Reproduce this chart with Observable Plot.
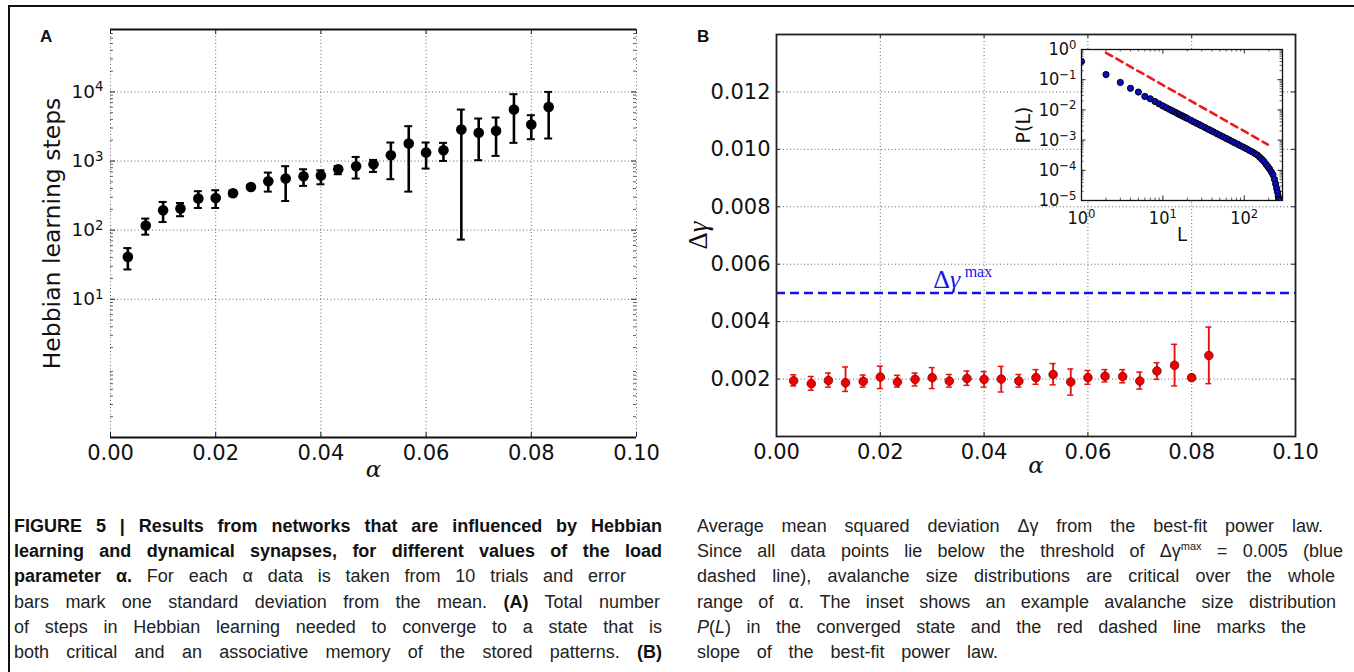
<!DOCTYPE html>
<html><head><meta charset="utf-8">
<script src="https://cdn.jsdelivr.net/npm/d3@7"></script>
<script src="https://cdn.jsdelivr.net/npm/@observablehq/plot@0.6"></script>
<style>
html,body{margin:0;padding:0;background:#fff;}
body{width:1354px;height:672px;position:relative;overflow:hidden;}
.pane{position:absolute;top:0;}
.border-top{position:absolute;left:8px;top:5px;width:1346px;height:1.6px;background:#111;}
.border-left{position:absolute;left:8px;top:5px;width:1.6px;height:667px;background:#111;}
.letter{position:absolute;top:27px;font:bold 17px "Liberation Sans",Arial,sans-serif;color:#111;}
.cap{position:absolute;top:514px;font-family:"Liberation Sans",Arial,sans-serif;font-size:18px;color:#222;}
.ln{display:block;height:25.2px;line-height:25.2px;text-align:justify;text-align-last:justify;white-space:nowrap;}
.b{font-weight:bold;color:#111;}
</style></head><body>
<div class="border-top"></div><div class="border-left"></div>
<div class="pane" id="paneA" style="left:0"></div>
<div class="pane" id="paneB" style="left:680px"></div>
<div class="pane" id="paneInset" style="left:1000px"></div>
<div class="letter" style="left:40px">A</div>
<div class="letter" style="left:697px">B</div>
<div class="cap" style="left:14px">
 <div class="ln b" style="width:648px">FIGURE 5 | Results from networks that are influenced by Hebbian</div>
 <div class="ln b" style="width:648px">learning and dynamical synapses, for different values of the load</div>
 <div class="ln" style="width:612px"><span class="b">parameter α.</span> For each α data is taken from 10 trials and error</div>
 <div class="ln" style="width:646px">bars mark one standard deviation from the mean. <span class="b">(A)</span> Total number</div>
 <div class="ln" style="width:648px">of steps in Hebbian learning needed to converge to a state that is</div>
 <div class="ln" style="width:648px">both critical and an associative memory of the stored patterns. <span class="b">(B)</span></div>
</div>
<div class="cap" style="left:697px">
 <div class="ln" style="width:626px">Average mean squared deviation Δγ from the best-fit power law.</div>
 <div class="ln" style="width:646px">Since all data points lie below the threshold of Δγ<sup style="font-size:11px;line-height:0">max</sup> = 0.005 (blue</div>
 <div class="ln" style="width:638px">dashed line), avalanche size distributions are critical over the whole</div>
 <div class="ln" style="width:639px">range of α. The inset shows an example avalanche size distribution</div>
 <div class="ln" style="width:609px"><i>P</i>(<i>L</i>) in the converged state and the red dashed line marks the</div>
 <div class="ln" style="width:301px">slope of the best-fit power law.</div>
</div>
<script>
// ---------- data ----------
const alpha = [0.0033,0.0067,0.0100,0.0133,0.0167,0.0200,0.0233,0.0267,0.0300,0.0333,0.0367,0.0400,0.0433,0.0467,0.0500,0.0533,0.0567,0.0600,0.0633,0.0667,0.0700,0.0733,0.0767,0.0800,0.0833];
const stepsMean = [41,117,194,205,287,292,342,422,510,558,603,617,760,842,900,1213,1795,1327,1432,2858,2558,2735,5559,3374,6067];
const stepsLow  = [27,86,131,159,209,209,310,398,361,264,437,461,644,558,695,546,361,778,1003,73,1028,1186,1832,2070,2118];
const stepsHigh = [55,147,256,247,366,378,375,448,681,842,760,735,849,1146,1038,1853,3192,1853,1832,5559,4121,4262,9270,4603,10000];
const dgMean = [0.00194,0.00184,0.00195,0.00187,0.00192,0.00207,0.00190,0.00199,0.00205,0.00193,0.00202,0.00199,0.00200,0.00193,0.00205,0.00216,0.00190,0.00205,0.00210,0.00209,0.00193,0.00228,0.00248,0.00205,0.00282];
const dgLow  = [0.00176,0.00161,0.00172,0.00157,0.00172,0.00167,0.00172,0.00176,0.00167,0.00172,0.00178,0.00172,0.00155,0.00172,0.00182,0.00180,0.00144,0.00182,0.00190,0.00187,0.00165,0.00199,0.00176,0.00196,0.00184];
const dgHigh = [0.00215,0.00209,0.00221,0.00242,0.00214,0.00245,0.00213,0.00221,0.00240,0.00216,0.00228,0.00226,0.00244,0.00216,0.00233,0.00254,0.00235,0.00230,0.00233,0.00233,0.00224,0.00257,0.00321,0.00214,0.00381];
const dgMax = [0.005];
const avalancheL = [1,2,3,4,5,6,7,8,9,10,11,12,13,14,15,16,17,18,19,20,22,24,26,28,30,33,36,39,42,46,50,55,60,65,70,76,83,90,98,106,115,125,135,145,155,165,175,185,195,205,215,225,235,243,250,256,261,265,268];
const avalancheP = [0.40,0.148,0.081,0.052,0.039,0.028,0.0234,0.019,0.0158,0.0135,0.0118,0.0105,0.0094,0.0085,0.0077,0.0070,0.0065,0.0060,0.0056,0.0052,0.00455,0.0040,0.0036,0.00326,0.00296,0.00259,0.00230,0.00206,0.00186,0.00164,0.00146,0.00128,0.00114,0.00102,0.00092,0.00082,0.00073,0.00065,0.00058,0.00052,0.00046,0.00041,0.00036,0.00032,0.00027,0.00023,0.000195,0.000158,0.000132,0.00011,0.000089,0.000071,0.00005,0.0000355,0.000025,0.000019,0.000014,0.0000112,0.0000105];
const fitL = [2,195];
const fitP = [0.78,0.00071];
const xTicks = [0,0.02,0.04,0.06,0.08,0.1];
const yTicksA = [10,100,1000,10000];
const yTicksB = [0.002,0.004,0.006,0.008,0.010,0.012];
const insetXTicks = [1,10,100];
const insetYTicks = [1e-5,1e-4,1e-3,1e-2,1e-1,1];

// ---------- helpers ----------
const dataA = alpha.map((a,i)=>({a, m:stepsMean[i], lo:stepsLow[i], hi:stepsHigh[i]}));
const dataB = alpha.map((a,i)=>({a, m:dgMean[i], lo:dgLow[i], hi:dgHigh[i]}));
const aval = avalancheL.map((L,i)=>({L, P:avalancheP[i]}));
const fit = fitL.map((L,i)=>({L, P:fitP[i]}));
function logMinors(lo, hi){const out=[];for(let e=Math.floor(Math.log10(lo));e<=Math.ceil(Math.log10(hi));e++){for(let k=2;k<=9;k++){const v=k*Math.pow(10,e);if(v>=lo&&v<=hi)out.push(v);}}return out;}
const supFmt = d => "10^" + String(Math.round(Math.log10(d))).replace("-", "\u2212");
const grid = {stroke:"#555", strokeWidth:0.9, strokeDasharray:"1,2.5", strokeOpacity:1};
const sans = '"DejaVu Sans",sans-serif';
const cond = '"DejaVu Sans Condensed","DejaVu Sans",sans-serif';
const ns = "http://www.w3.org/2000/svg";
function supify(svg){
  svg.querySelectorAll("text").forEach(t=>{
    const m = t.textContent.match(/^10\^(.+)$/);
    if(m && t.querySelector("tspan")==null){
      t.textContent="";
      const a=document.createElementNS(ns,"tspan"); a.textContent="10";
      const b=document.createElementNS(ns,"tspan"); b.textContent=m[1];
      b.setAttribute("dy","-0.48em"); b.setAttribute("font-size","0.72em");
      t.append(a,b);
    } else if (t.textContent==="Δγ" && t.querySelector("tspan")==null){
      t.textContent="";
      const a=document.createElementNS(ns,"tspan"); a.textContent="Δ"; a.setAttribute("font-style","normal");
      const b=document.createElementNS(ns,"tspan"); b.textContent="γ"; b.setAttribute("font-style","italic");
      t.append(a,b);
    }
  });
  return svg;
}

// ---------- panel A ----------
const FWA = 680-110-44, FHA = 480-29-43;
const yMinorA = logMinors(0.1, 80000);
const plotA = Plot.plot({
  width:680, height:480, marginLeft:110, marginRight:44, marginTop:29, marginBottom:43,
  style:{fontFamily:sans, fontSize:"21px", color:"#111", background:"transparent", overflow:"visible"},
  x:{domain:[0,0.1], label:null},
  y:{type:"log", domain:[0.1,80000], label:null},
  marks:[
    Plot.gridX(xTicks, grid),
    Plot.gridY(yTicksA, grid),
    Plot.tickY(yMinorA, {y:d=>d, insetRight:FWA-3, stroke:"#333", strokeWidth:0.8}),
    Plot.tickY(yMinorA, {y:d=>d, insetLeft:FWA-3, stroke:"#333", strokeWidth:0.8}),
    Plot.tickY(yTicksA, {y:d=>d, insetRight:FWA-5, stroke:"#222"}),
    Plot.tickY(yTicksA, {y:d=>d, insetLeft:FWA-5, stroke:"#222"}),
    Plot.tickX(xTicks, {x:d=>d, insetTop:FHA-5, stroke:"#222"}),
    Plot.tickX(xTicks, {x:d=>d, insetBottom:FHA-5, stroke:"#222"}),
    Plot.ruleY([0.1], {stroke:"#111", strokeWidth:2}),
    Plot.ruleY([80000], {stroke:"#111", strokeWidth:2}),
    Plot.axisX(xTicks, {anchor:"bottom", label:null, tickSize:0, tickPadding:8, tickFormat:d=>d.toFixed(2), fontSize:21, fontFamily:sans}),
    Plot.axisY(yTicksA, {anchor:"left", label:null, tickSize:0, tickPadding:7, tickFormat:supFmt, fontSize:18.5, fontFamily:sans}),
    Plot.ruleX(dataA, {x:"a", y1:"lo", y2:"hi", stroke:"#000", strokeWidth:2.6}),
    Plot.ruleY(dataA, {y:"lo", x1:"a", x2:"a", insetLeft:-4, insetRight:-4, stroke:"#000", strokeWidth:2}),
    Plot.ruleY(dataA, {y:"hi", x1:"a", x2:"a", insetLeft:-4, insetRight:-4, stroke:"#000", strokeWidth:2}),
    Plot.dot(dataA, {x:"a", y:"m", r:5.3, fill:"#000"}),
    Plot.text(["α"], {text:d=>d, frameAnchor:"bottom", textAnchor:"middle", dy:39, fontFamily:"DejaVu Serif", fontStyle:"italic", fontSize:23}),
    Plot.text(["Hebbian learning steps"], {text:d=>d, frameAnchor:"left", textAnchor:"middle", dx:-58, rotate:-90, fontFamily:sans, fontSize:23.5})
  ]
});
document.getElementById("paneA").append(supify(plotA));

// ---------- panel B ----------
const FWB = 674-96-59, FHB = 480-34-44;
const plotB = Plot.plot({
  width:674, height:480, marginLeft:96, marginRight:59, marginTop:34, marginBottom:44,
  style:{fontFamily:sans, fontSize:"21px", color:"#111", background:"transparent", overflow:"visible"},
  x:{domain:[0,0.1], label:null},
  y:{domain:[0,0.014], label:null},
  marks:[
    Plot.gridX(xTicks.slice(1,-1), grid),
    Plot.gridY(yTicksB, grid),
    Plot.tickY(yTicksB, {y:d=>d, insetRight:FWB-4, stroke:"#222"}),
    Plot.tickY(yTicksB, {y:d=>d, insetLeft:FWB-4, stroke:"#222"}),
    Plot.tickX(xTicks, {x:d=>d, insetTop:FHB-4, stroke:"#222"}),
    Plot.tickX(xTicks, {x:d=>d, insetBottom:FHB-4, stroke:"#222"}),
    Plot.ruleY(dgMax, {y:d=>d, stroke:"#1010f0", strokeWidth:2.4, strokeDasharray:"9,5"}),
    Plot.text(dgMax, {x:0.0328, y:d=>d, dy:-13, text:()=>"Δγ", fill:"#1818e8", fontFamily:"Liberation Serif", fontStyle:"italic", fontSize:26}),
    Plot.text(dgMax, {x:0.0389, y:d=>d, dy:-21, text:()=>"max", fill:"#1818e8", fontFamily:"Liberation Serif", fontSize:16}),
    Plot.axisX(xTicks, {anchor:"bottom", label:null, tickSize:0, tickPadding:8, tickFormat:d=>d.toFixed(2), fontSize:21, fontFamily:sans}),
    Plot.axisY(yTicksB, {anchor:"left", label:null, tickSize:0, tickPadding:6, tickFormat:d=>d.toFixed(3), fontSize:21, fontFamily:sans}),
    Plot.ruleX(dataB, {x:"a", y1:"lo", y2:"hi", stroke:"#e81010", strokeWidth:1.9}),
    Plot.ruleY(dataB, {y:"lo", x1:"a", x2:"a", insetLeft:-3, insetRight:-3, stroke:"#e81010", strokeWidth:1.5}),
    Plot.ruleY(dataB, {y:"hi", x1:"a", x2:"a", insetLeft:-3, insetRight:-3, stroke:"#e81010", strokeWidth:1.5}),
    Plot.dot(dataB, {x:"a", y:"m", r:4.3, fill:"#f00000", stroke:"#7a0000", strokeWidth:0.8}),
    Plot.frame({stroke:"#222", strokeWidth:1.8}),
    Plot.text(["α"], {text:d=>d, frameAnchor:"bottom", textAnchor:"middle", dy:36, fontFamily:"DejaVu Serif", fontStyle:"italic", fontSize:23}),
    Plot.text(["Δγ"], {text:d=>d, frameAnchor:"left", textAnchor:"middle", dx:-78, rotate:-90, fontFamily:"Liberation Serif", fontStyle:"italic", fontSize:27})
  ]
});
document.getElementById("paneB").append(supify(plotB));

// ---------- inset ----------
const FWI = 300-81-18, FHI = 260-49-60;
const xMinorI = logMinors(1, 295), yMinorI = logMinors(1e-5, 1);
const plotI = Plot.plot({
  width:300, height:260, marginLeft:81, marginRight:18, marginTop:49, marginBottom:60,
  style:{fontFamily:cond, fontSize:"18px", color:"#111", background:"transparent", overflow:"visible"},
  x:{type:"log", domain:[1,295], label:null},
  y:{type:"log", domain:[1e-5,1], label:null},
  marks:[
    Plot.frame({fill:"white", stroke:null}),
    Plot.tickX(xMinorI, {x:d=>d, insetTop:FHI-2.5, stroke:"#333", strokeWidth:0.8}),
    Plot.tickX(xMinorI, {x:d=>d, insetBottom:FHI-2.5, stroke:"#333", strokeWidth:0.8}),
    Plot.tickX(insetXTicks, {x:d=>d, insetTop:FHI-4.5, stroke:"#222"}),
    Plot.tickX(insetXTicks, {x:d=>d, insetBottom:FHI-4.5, stroke:"#222"}),
    Plot.tickY(yMinorI, {y:d=>d, insetRight:FWI-2.5, stroke:"#333", strokeWidth:0.8}),
    Plot.tickY(yMinorI, {y:d=>d, insetLeft:FWI-2.5, stroke:"#333", strokeWidth:0.8}),
    Plot.tickY(insetYTicks, {y:d=>d, insetRight:FWI-4.5, stroke:"#222"}),
    Plot.tickY(insetYTicks, {y:d=>d, insetLeft:FWI-4.5, stroke:"#222"}),
    Plot.line(fit, {x:"L", y:"P", stroke:"#f01818", strokeWidth:2.6, strokeDasharray:"7,5"}),
    Plot.dot(aval, {x:"L", y:"P", r:3.1, fill:"#0c0cc8", stroke:"#000", strokeWidth:1, clip:true}),
    Plot.frame({stroke:"#111", strokeWidth:1.3}),
    Plot.axisX(insetXTicks, {anchor:"bottom", label:null, tickSize:0, tickPadding:11, tickFormat:supFmt}),
    Plot.axisY(insetYTicks, {anchor:"left", label:null, tickSize:0, tickPadding:5, tickFormat:supFmt}),
    Plot.text(["L"], {text:d=>d, frameAnchor:"bottom", textAnchor:"middle", dy:40, fontFamily:cond, fontSize:20}),
    Plot.text(["P(L)"], {text:d=>d, frameAnchor:"left", textAnchor:"middle", dx:-58, rotate:-90, fontFamily:sans, fontSize:19})
  ]
});
document.getElementById("paneInset").append(supify(plotI));
</script>
</body></html>
